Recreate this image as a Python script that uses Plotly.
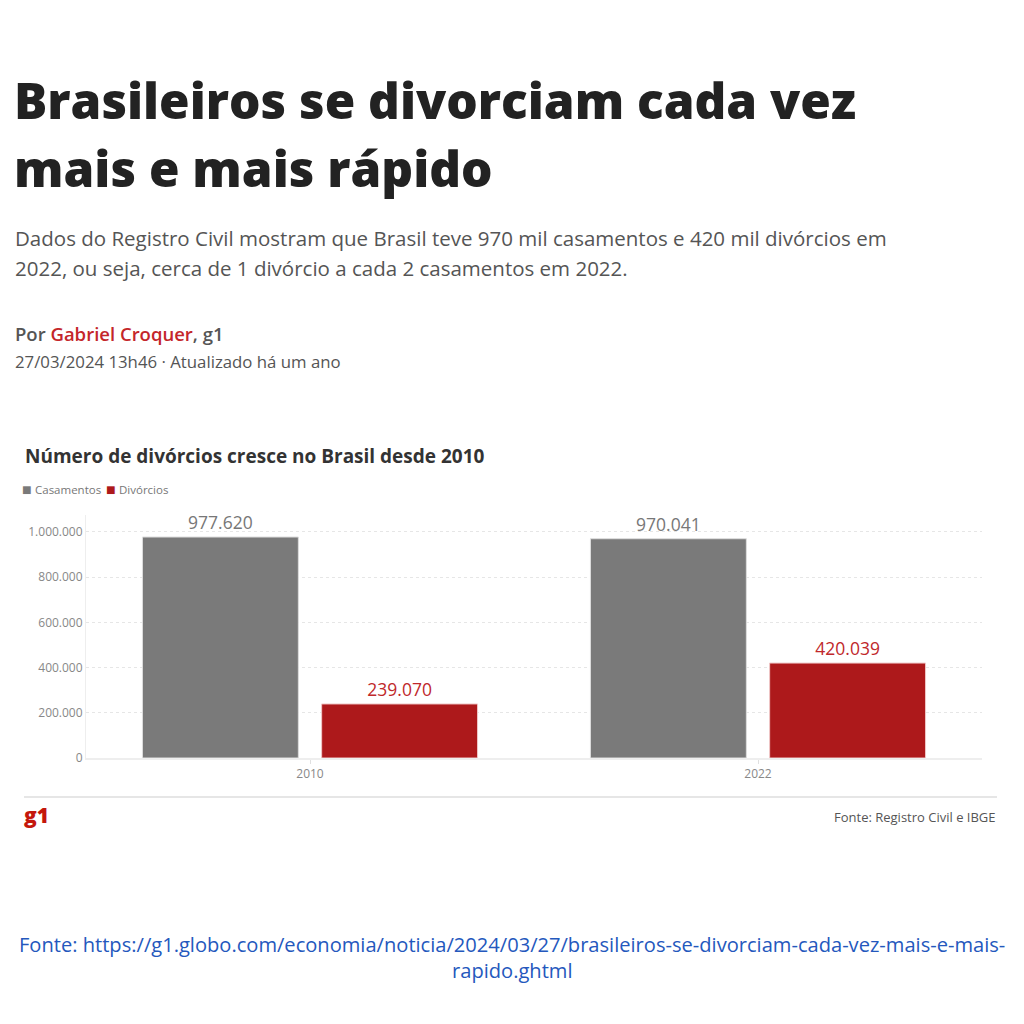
import plotly.graph_objects as go

# data
anos = ["2010", "2022"]
casamentos = [977620, 970041]
divorcios = [239070, 420039]
y_ticks = [0, 200000, 400000, 600000, 800000, 1000000]

W, H = 1024, 1024
OFF = 8  # page body margin
ml, mr, mt, mb = 86 - OFF, 42 + OFF, 515 - OFF, 266 + OFF
pw, ph = W - ml - mr, H - mt - mb


def px(x):
    return (x - OFF - ml) / pw


def py(y):
    return (H - mb - (y - OFF)) / ph


fig = go.Figure()
fig.add_trace(go.Bar(
    x=anos, y=casamentos, name="Casamentos",
    marker=dict(color="#7a7a7a", line=dict(color="#dddddd", width=1)),
    texttemplate="%{y:,}", textposition="outside",
    textfont=dict(color="#777777", size=17.5),
    cliponaxis=False,
))
fig.add_trace(go.Bar(
    x=anos, y=divorcios, name="Divórcios",
    marker=dict(color="#ad191b", line=dict(color="#f0c8c8", width=1)),
    texttemplate="%{y:,}", textposition="outside",
    textfont=dict(color="#c0282b", size=17.5),
    cliponaxis=False,
))

font = "Open Sans"


def note(x, y, text, size, color, xanchor="left", yanchor="middle", weight="normal"):
    return dict(x=px(x), y=py(y), xref="paper", yref="paper", showarrow=False,
                text=text, xanchor=xanchor, yanchor=yanchor, align=xanchor if xanchor != "center" else "center",
                font=dict(size=size, color=color, family=font, weight=weight))


annots = [
    note(12, 100, "Brasileiros se divorciam cada vez", 49.5, "#222222", weight=800),
    note(12, 168, "mais e mais rápido", 49.5, "#222222", weight=800),
    note(13, 238, "Dados do Registro Civil mostram que Brasil teve 970 mil casamentos e 420 mil divórcios em", 20.5, "#555555"),
    note(13, 268, "2022, ou seja, cerca de 1 divórcio a cada 2 casamentos em 2022.", 20.5, "#555555"),
    note(13, 333, "Por <span style='color:#c4262a'>Gabriel Croquer</span>, g1", 18.5, "#555555", weight=600),
    note(13, 361, "27/03/2024 13h46 · Atualizado há um ano", 16.8, "#555555"),
    note(23, 456, "Número de divórcios cresce no Brasil desde 2010", 19, "#333333", weight="bold"),
    note(20, 489, "■", 16, "#7a7a7a"),
    note(33, 489, "Casamentos", 11.5, "#777777"),
    note(104, 489, "■", 16, "#ad191b"),
    note(117, 489, "Divórcios", 11.5, "#777777"),
    note(22, 815, "g1", 21, "#c4170c", weight=800),
    note(998, 817, "Fonte: Registro Civil e IBGE", 13, "#555555", xanchor="right"),
    note(512, 944, "Fonte: https://g1.globo.com/economia/noticia/2024/03/27/brasileiros-se-divorciam-cada-vez-mais-e-mais-", 20.1, "#2458bd", xanchor="center"),
    note(512, 970, "rapido.ghtml", 20.1, "#2458bd", xanchor="center"),
]

fig.update_layout(
    width=W, height=H,
    margin=dict(l=ml, r=mr, t=mt, b=mb),
    paper_bgcolor="white", plot_bgcolor="white",
    barmode="group", bargap=0.2, bargroupgap=0.13,
    separators=",.",
    showlegend=False,
    font=dict(family=font),
    annotations=annots,
    shapes=[dict(type="line", xref="paper", yref="paper", x0=px(24), x1=px(997),
                 y0=py(797), y1=py(797), line=dict(color="#e6e6e6", width=2))],
)
fig.update_yaxes(
    range=[0, 1075000], tickvals=y_ticks, tickformat=",",
    showgrid=True, gridcolor="#e6e6e6", griddash="dot",
    zeroline=False, showline=True, linecolor="#eeeeee",
    tickfont=dict(size=12, color="#888888"),
)
fig.update_xaxes(
    showline=True, linecolor="#eeeeee", linewidth=2,
    ticks="outside", ticklen=4, tickcolor="#e0e0e0",
    tickfont=dict(size=12, color="#888888"),
)

fig.write_html("out.html")
